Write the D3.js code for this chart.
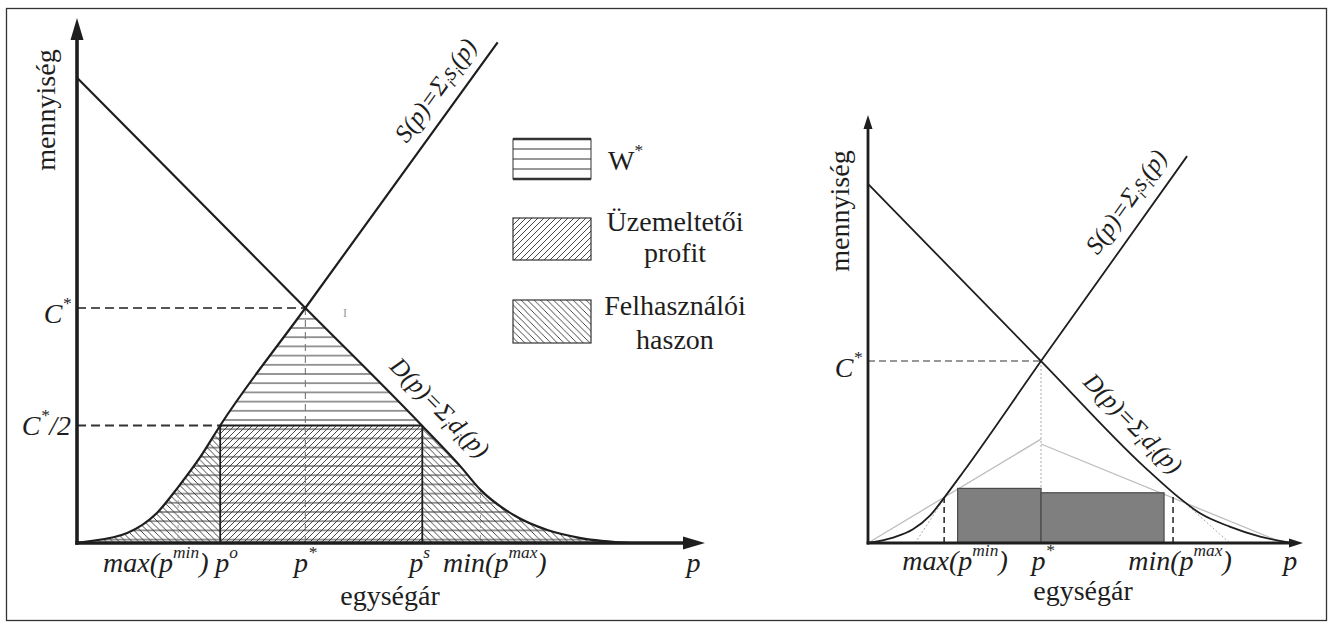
<!DOCTYPE html>
<html><head><meta charset="utf-8">
<script src="https://cdn.jsdelivr.net/npm/d3@7/dist/d3.min.js"></script>
<style>
html,body{margin:0;padding:0;background:#fff;}
svg text{font-family:"Liberation Serif","Times New Roman",Times,serif;fill:#1e1e1e;}
</style></head><body>
<svg id="chart" width="1331" height="624"></svg>
<script>
// ---------- data (units: p* = 1, C* = 1) ----------
const leftSupply  = [[0,0],[0.035,0.005],[0.22,0.043],[0.35,0.128],[0.443,0.238],[0.54,0.366],[0.627,0.5],[1,1],[1.842,2.13]];
const leftDemand  = [[0,1.98],[1,1],[1.512,0.498],[1.68,0.325],[1.767,0.226],[1.912,0.119],[2.06,0.055],[2.206,0.021],[2.425,0]];
const rightSupply = [[0,0],[0.145,0.03],[0.26,0.075],[0.358,0.15],[0.445,0.255],[0.55,0.39],[1,1],[1.844,2.126]];
const rightDemand = [[0,1.973],[1,1],[1.6,0.416],[1.803,0.245],[1.919,0.163],[2.09,0.09],[2.266,0.035],[2.45,0]];
const equilibrium = [1, 1];            // p*, C*
const profitPrices = [0.627, 1.512];   // p^o, p^s
const profitLevel = 0.5;               // C*/2
const leftGuides = [[0.443,0.238],[1.767,0.226]];
const rightGuides = [[0.44,0.25],[1.763,0.27]];
const rightBarStart = [0.518, 1];
const rightBarEnd = [1, 1.711];
const rightBarHeight = [0.30, 0.276];
const rightGrayLines = [[[0,0],[1,0.571]],[[1,0.544],[2.40,0]]];
const rightDotted = [[[0.272,0],[0.445,0.25]],[[1.803,0.245],[2.09,0]]];
const leftTickLabels = ["max(p^{min})","p^{o}","p^{*}","p^{s}","min(p^{max})","p"];
const leftTickPos = [0.345,0.655,1.0,1.5,1.83,2.7];
const rightTickLabels = ["max(p^{min})","p^{*}","min(p^{max})","p"];
const rightTickPos = [0.503,1.01,1.803,2.44];
const leftLevelLabels = ["C^{*}","C^{*}/2"];
const leftLevels = [1, 0.5];
const rightLevelLabels = ["C^{*}"];
const rightLevels = [1];
const supplyLabel = "S(p)=Σ_{i}s_{i}(p)";
const demandLabel = "D(p)=Σ_{i}d_{i}(p)";
const leftLineLabelPos = [1.649, 1.51];
const rightLineLabelPos = [1.601, 1.44];
const legendKeys = ["hz","fw","bw"];
const legendLabels = [["W^{*}"],["Üzemeltetői","profit"],["Felhasználói","haszon"]];
const axisTitles = ["egységár","mennyiség"];

// ---------- helpers ----------
const svg = d3.select('#chart');
const defs = svg.append('defs');
const INK = '#1e1e1e';

function pattern(id,w,h,d,y0,sw){
  const p = defs.append('pattern').attr('id',id).attr('patternUnits','userSpaceOnUse')
    .attr('width',w).attr('height',h).attr('x',0).attr('y',y0||0);
  p.append('path').attr('d',d).attr('fill','none').attr('stroke','#333').attr('stroke-width',sw||0.9);
}
pattern('hz',20,9.2,'M0,4.6H20',420-4.6,1);
pattern('fw',6,6,'M-1,1L1,-1M0,6L6,0M5,7L7,5',0,0.9);
pattern('bw',6.5,6.5,'M-1,5.5L1,7.5M0,0L6.5,6.5M5.5,-1L7.5,1',0,0.9);

function clip(id,x0,x1){
  defs.append('clipPath').attr('id',id).append('rect').attr('x',x0).attr('y',0).attr('width',x1-x0).attr('height',624);
}
function rich(sel,str,size){
  const re=/([\^_])\{([^}]*)\}/g; const parts=[]; let last=0,m;
  while((m=re.exec(str))!==null){ if(m.index>last) parts.push([str.slice(last,m.index),'']); parts.push([m[2],m[1]]); last=re.lastIndex; }
  if(last<str.length) parts.push([str.slice(last),'']);
  let cur=0;
  parts.forEach(([t,k])=>{
    const target = k==='^' ? -0.5*size : (k==='_' ? 0.22*size : 0);
    sel.append('tspan').attr('dy',target-cur).attr('font-size',k?size*0.62:size).text(t);
    cur=target;
  });
  sel.attr('font-size',size);
  return sel;
}
function seg(g,x,y,a,b,stroke,w,dash){
  const l=g.append('line').attr('x1',x(a[0])).attr('y1',y(a[1])).attr('x2',x(b[0])).attr('y2',y(b[1]))
    .attr('stroke',stroke).attr('stroke-width',w);
  if(dash) l.attr('stroke-dasharray',dash);
  return l;
}
function lineLabel(g,x,y,a,b,pAt,str,off){
  const ang=Math.atan2(y(b[1])-y(a[1]), x(b[0])-x(a[0]))*180/Math.PI;
  const q=a[1]+(b[1]-a[1])*(pAt-a[0])/(b[0]-a[0]);
  const t=g.append('text').attr('transform',`translate(${x(pAt)},${y(q)}) rotate(${ang})`)
    .attr('text-anchor','middle').attr('font-style','italic').attr('y',-off);
  rich(t,str,25);
}
function axes(g,x,y,w,ah,aw){
  const x0=x.range()[0], x1=x.range()[1], y0=y.range()[0], y1=y.range()[1];
  g.append('line').attr('x1',x0).attr('y1',y0+w/2).attr('x2',x0).attr('y2',y1+ah-1).attr('stroke',INK).attr('stroke-width',w);
  g.append('line').attr('x1',x0-w/2).attr('y1',y0).attr('x2',x1-ah+1).attr('y2',y0).attr('stroke',INK).attr('stroke-width',w);
  g.append('path').attr('d',`M${x0},${y1}L${x0-aw},${y1+ah}L${x0+aw},${y1+ah}Z`).attr('fill',INK);
  g.append('path').attr('d',`M${x1},${y0}L${x1-ah},${y0-aw}L${x1-ah},${y0+aw}Z`).attr('fill',INK);
}

// frame
svg.append('rect').attr('x',6.5).attr('y',8.5).attr('width',1320).attr('height',612)
  .attr('fill','none').attr('stroke','#333').attr('stroke-width',1.3);

const [pStar,cStar]=equilibrium;

// ================= LEFT CHART =================
const xL=d3.scaleLinear().domain([0,2.75]).range([77,705]);
const yL=d3.scaleLinear().domain([0,2.234]).range([543,18]);
clip('cLs',0,xL(pStar)); clip('cLd',xL(pStar),1331);
clip('cLt1',0,xL(profitPrices[0])); clip('cLt2',xL(profitPrices[1]),1331);
const areaL=d3.area().x(d=>xL(d[0])).y0(yL(0)).y1(d=>yL(d[1])).curve(d3.curveMonotoneX);
const lineL=d3.line().x(d=>xL(d[0])).y(d=>yL(d[1])).curve(d3.curveMonotoneX);
const gL=svg.append('g');

gL.append('path').attr('d',areaL(leftSupply)).attr('fill','url(#hz)').attr('clip-path','url(#cLs)');
gL.append('path').attr('d',areaL(leftDemand)).attr('fill','url(#hz)').attr('clip-path','url(#cLd)');
gL.append('path').attr('d',areaL(leftSupply)).attr('fill','url(#bw)').attr('clip-path','url(#cLt1)');
gL.append('path').attr('d',areaL(leftDemand)).attr('fill','url(#bw)').attr('clip-path','url(#cLt2)');
gL.append('rect').attr('x',xL(profitPrices[0])).attr('y',yL(profitLevel))
  .attr('width',xL(profitPrices[1])-xL(profitPrices[0])).attr('height',yL(0)-yL(profitLevel)).attr('fill','url(#fw)');

leftGuides.forEach(g=>seg(gL,xL,yL,[g[0],0],g,'#9a9a9a',1,'3,2'));
seg(gL,xL,yL,[pStar,0],[pStar,cStar],'#777',1.1,'7,5');
seg(gL,xL,yL,[0,cStar],[pStar,cStar],'#555',1.8,'9,5');
seg(gL,xL,yL,[0,profitLevel],[profitPrices[0],profitLevel],'#333',2,'9,5');
seg(gL,xL,yL,[profitPrices[0],0],[profitPrices[0],profitLevel],INK,1.8);
seg(gL,xL,yL,[profitPrices[1],0],[profitPrices[1],profitLevel],INK,1.8);
seg(gL,xL,yL,[profitPrices[0],profitLevel],[profitPrices[1],profitLevel],INK,2.2);

gL.append('path').attr('d',lineL(leftSupply)).attr('fill','none').attr('stroke',INK).attr('stroke-width',2.2);
gL.append('path').attr('d',lineL(leftDemand)).attr('fill','none').attr('stroke',INK).attr('stroke-width',2.2);
axes(gL,xL,yL,3.6,22,6.5);

leftTickLabels.forEach((s,i)=>{
  rich(gL.append('text').attr('x',xL(leftTickPos[i])).attr('y',572).attr('text-anchor','middle').attr('font-style','italic'),s,28);
});
leftLevelLabels.forEach((s,i)=>{
  rich(gL.append('text').attr('x',71).attr('y',yL(leftLevels[i])+(i===0?15:10)).attr('text-anchor','end').attr('font-style','italic'),s,28);
});
gL.append('text').attr('x',390).attr('y',605).attr('text-anchor','middle').attr('font-size',28).text(axisTitles[0]);
gL.append('text').attr('transform','translate(55,110) rotate(-90)').attr('text-anchor','middle').attr('font-size',28).text(axisTitles[1]);
lineLabel(gL,xL,yL,[1,1],leftSupply[leftSupply.length-1],leftLineLabelPos[0],supplyLabel,14);
lineLabel(gL,xL,yL,leftDemand[0],[1,1],leftLineLabelPos[1],demandLabel,17);
gL.append('text').attr('x',345).attr('y',317).attr('text-anchor','middle').attr('font-size',12).style('fill','#999').text('I');

// legend
const lgTop=[139,218,300], lgH=[40,42,43], lgBase=[[170],[231,262],[315,349]];
legendKeys.forEach((k,i)=>{
  const x0=513,w=78,y0=lgTop[i],h=lgH[i];
  if(k==='hz'){
    gL.append('rect').attr('x',x0).attr('y',y0).attr('width',w).attr('height',h).attr('fill','#fff').attr('stroke','#333').attr('stroke-width',1);
    [1,2,3].forEach(j=>gL.append('line').attr('x1',x0).attr('x2',x0+w).attr('y1',y0+j*h/4).attr('y2',y0+j*h/4).attr('stroke','#333').attr('stroke-width',1));
    [0,h].forEach(dy=>gL.append('line').attr('x1',x0).attr('x2',x0+w).attr('y1',y0+dy).attr('y2',y0+dy).attr('stroke','#333').attr('stroke-width',2.6));
  } else {
    gL.append('rect').attr('x',x0).attr('y',y0).attr('width',w).attr('height',h).attr('fill',`url(#${k})`).attr('stroke','#333').attr('stroke-width',1.2);
  }
  legendLabels[i].forEach((s,j)=>{
    const t=gL.append('text').attr('y',lgBase[i][j]);
    if(i===0) t.attr('x',608).attr('text-anchor','start'); else t.attr('x',675).attr('text-anchor','middle');
    rich(t,s,28);
  });
});

// ================= RIGHT CHART =================
const xR=d3.scaleLinear().domain([0,2.514]).range([868,1303]);
const yR=d3.scaleLinear().domain([0,2.352]).range([543,115]);
const lineR=d3.line().x(d=>xR(d[0])).y(d=>yR(d[1])).curve(d3.curveMonotoneX);
const gR=svg.append('g');

rightGrayLines.forEach(l=>seg(gR,xR,yR,l[0],l[1],'#bdbdbd',1.3));
rightDotted.forEach(l=>seg(gR,xR,yR,l[0],l[1],'#aaa',1,'2,2'));
seg(gR,xR,yR,[pStar,0],[pStar,cStar],'#aaa',1,'2,2');
rightBarStart.forEach((p0,i)=>{
  gR.append('rect').attr('x',xR(p0)).attr('y',yR(rightBarHeight[i])).attr('width',xR(rightBarEnd[i])-xR(p0))
    .attr('height',yR(0)-yR(rightBarHeight[i])).attr('fill','#7f7f7f').attr('stroke','#4a4a4a').attr('stroke-width',1.2);
});
rightGuides.forEach(g=>seg(gR,xR,yR,[g[0],0],g,'#222',1.5,'6,4'));
seg(gR,xR,yR,[0,cStar],[pStar,cStar],'#777',1.5,'7,4');
gR.append('path').attr('d',lineR(rightSupply)).attr('fill','none').attr('stroke',INK).attr('stroke-width',1.8);
gR.append('path').attr('d',lineR(rightDemand)).attr('fill','none').attr('stroke',INK).attr('stroke-width',1.8);
axes(gR,xR,yR,2.8,14,4.5);

rightTickLabels.forEach((s,i)=>{
  rich(gR.append('text').attr('x',xR(rightTickPos[i])).attr('y',570).attr('text-anchor','middle').attr('font-style','italic'),s,28);
});
rightLevelLabels.forEach((s,i)=>{
  rich(gR.append('text').attr('x',862).attr('y',yR(rightLevels[i])+16).attr('text-anchor','end').attr('font-style','italic'),s,28);
});
gR.append('text').attr('x',1083).attr('y',600).attr('text-anchor','middle').attr('font-size',28).text(axisTitles[0]);
gR.append('text').attr('transform','translate(849,211) rotate(-90)').attr('text-anchor','middle').attr('font-size',28).text(axisTitles[1]);
lineLabel(gR,xR,yR,[1,1],rightSupply[rightSupply.length-1],rightLineLabelPos[0],supplyLabel,15);
lineLabel(gR,xR,yR,rightDemand[0],[1,1],rightLineLabelPos[1],demandLabel,14);
</script>
</body></html>
